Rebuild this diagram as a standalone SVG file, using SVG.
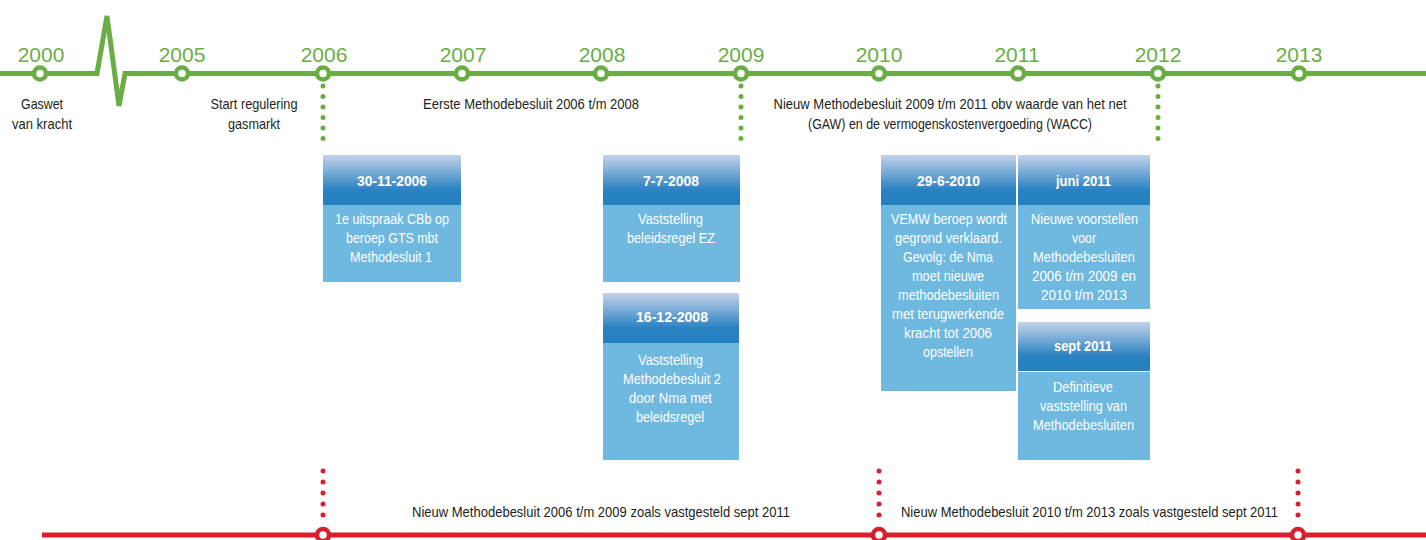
<svg xmlns="http://www.w3.org/2000/svg" width="1426" height="540" viewBox="0 0 1426 540">
<defs>
<linearGradient id="hdr" x1="0" y1="0" x2="0" y2="1">
<stop offset="0" stop-color="#c3d2ea"/>
<stop offset="0.7" stop-color="#2a82c2"/>
<stop offset="1" stop-color="#2381c0"/>
</linearGradient>
<style>
.yr{font-family:"Liberation Sans",Arial,sans-serif;font-size:21px;fill:#6aad45;text-anchor:middle}
.lbl{font-family:"Liberation Sans",Arial,sans-serif;font-size:14.5px;fill:#231f20;text-anchor:middle}
.hd{font-family:"Liberation Sans",Arial,sans-serif;font-size:15.5px;font-weight:bold;fill:#fff;text-anchor:middle}
.bd{font-family:"Liberation Sans",Arial,sans-serif;font-size:15.5px;fill:#fff;text-anchor:middle}
.body{fill:#6fb8e0}
.head{fill:url(#hdr)}
.gl{stroke:#6aad45;stroke-width:5;fill:none}
.rl{stroke:#d71f2e;stroke-width:5;fill:none}
.gd{stroke:#6aad45;stroke-width:5;stroke-linecap:round;stroke-dasharray:0 10.5;fill:none}
.rd{stroke:#d71f2e;stroke-width:5;stroke-linecap:round;stroke-dasharray:0 11;fill:none}
.gc{fill:#fff;stroke:#6aad45;stroke-width:4.5}
.rc{fill:#fff;stroke:#d71f2e;stroke-width:4.5}
</style>
</defs>
<g id="connectors">
<polyline class="gl" points="0,73.5 97,73.5 107,16 119,106 125,73.5 1426,73.5" stroke-linejoin="miter"/>
<line class="gd" x1="323" y1="86" x2="323" y2="144"/>
<line class="gd" x1="741" y1="86" x2="741" y2="144"/>
<line class="gd" x1="1158" y1="86" x2="1158" y2="144"/>
<line class="rl" x1="42" y1="535" x2="1426" y2="535"/>
<line class="rd" x1="323" y1="471" x2="323" y2="522"/>
<line class="rd" x1="879" y1="471" x2="879" y2="522"/>
<line class="rd" x1="1298" y1="471" x2="1298" y2="522"/>
</g>
<g id="years">
<g id="y2000"><circle class="gc" cx="40" cy="73.5" r="6"/><text class="yr" x="41" y="62">2000</text></g>
<g id="y2005"><circle class="gc" cx="182" cy="73.5" r="6"/><text class="yr" x="182" y="62">2005</text></g>
<g id="y2006"><circle class="gc" cx="323" cy="73.5" r="6"/><text class="yr" x="324" y="62">2006</text></g>
<g id="y2007"><circle class="gc" cx="462" cy="73.5" r="6"/><text class="yr" x="463" y="62">2007</text></g>
<g id="y2008"><circle class="gc" cx="601" cy="73.5" r="6"/><text class="yr" x="602" y="62">2008</text></g>
<g id="y2009"><circle class="gc" cx="741" cy="73.5" r="6"/><text class="yr" x="741" y="62">2009</text></g>
<g id="y2010"><circle class="gc" cx="879" cy="73.5" r="6"/><text class="yr" x="879" y="62">2010</text></g>
<g id="y2011"><circle class="gc" cx="1018" cy="73.5" r="6"/><text class="yr" x="1017" y="62">2011</text></g>
<g id="y2012"><circle class="gc" cx="1158" cy="73.5" r="6"/><text class="yr" x="1158" y="62">2012</text></g>
<g id="y2013"><circle class="gc" cx="1299" cy="73.5" r="6"/><text class="yr" x="1299" y="62">2013</text></g>
</g>
<g id="labels">
<text class="lbl" x="42" y="109" textLength="42" lengthAdjust="spacingAndGlyphs">Gaswet</text>
<text class="lbl" x="42" y="129" textLength="60" lengthAdjust="spacingAndGlyphs">van kracht</text>
<text class="lbl" x="254" y="109" textLength="87" lengthAdjust="spacingAndGlyphs">Start regulering</text>
<text class="lbl" x="254" y="129" textLength="52" lengthAdjust="spacingAndGlyphs">gasmarkt</text>
<text class="lbl" x="531" y="109" textLength="216" lengthAdjust="spacingAndGlyphs">Eerste Methodebesluit 2006 t/m 2008</text>
<text class="lbl" x="950" y="109" textLength="353" lengthAdjust="spacingAndGlyphs">Nieuw Methodebesluit 2009 t/m 2011 obv waarde van het net</text>
<text class="lbl" x="950" y="129" textLength="284" lengthAdjust="spacingAndGlyphs">(GAW) en de vermogenskostenvergoeding (WACC)</text>
</g>
<g id="box-30-11-2006">
<rect class="head" x="323" y="155" width="138" height="50"/>
<rect class="body" x="323" y="205" width="138" height="77"/>
<text class="hd" x="392" y="186" textLength="70" lengthAdjust="spacingAndGlyphs">30-11-2006</text>
<text class="bd" x="392" y="224" textLength="114" lengthAdjust="spacingAndGlyphs">1e uitspraak CBb op</text>
<text class="bd" x="392" y="243" textLength="92" lengthAdjust="spacingAndGlyphs">beroep GTS mbt</text>
<text class="bd" x="391" y="262" textLength="82" lengthAdjust="spacingAndGlyphs">Methodesluit 1</text>
</g>
<g id="box-7-7-2008">
<rect class="head" x="603" y="155" width="137" height="50"/>
<rect class="body" x="603" y="205" width="137" height="77"/>
<text class="hd" x="671" y="186" textLength="56" lengthAdjust="spacingAndGlyphs">7-7-2008</text>
<text class="bd" x="670.5" y="224" textLength="65" lengthAdjust="spacingAndGlyphs">Vaststelling</text>
<text class="bd" x="671" y="243" textLength="88" lengthAdjust="spacingAndGlyphs">beleidsregel EZ</text>
</g>
<g id="box-16-12-2008">
<rect class="head" x="603" y="293" width="136" height="50"/>
<rect class="body" x="603" y="343" width="136" height="117"/>
<text class="hd" x="672" y="322" textLength="72" lengthAdjust="spacingAndGlyphs">16-12-2008</text>
<text class="bd" x="670.5" y="365" textLength="65" lengthAdjust="spacingAndGlyphs">Vaststelling</text>
<text class="bd" x="672" y="384" textLength="98" lengthAdjust="spacingAndGlyphs">Methodebesluit 2</text>
<text class="bd" x="670.5" y="403" textLength="83" lengthAdjust="spacingAndGlyphs">door Nma met</text>
<text class="bd" x="670" y="422" textLength="68" lengthAdjust="spacingAndGlyphs">beleidsregel</text>
</g>
<g id="box-29-6-2010">
<rect class="head" x="881" y="155" width="135" height="50"/>
<rect class="body" x="881" y="205" width="135" height="186"/>
<text class="hd" x="948.5" y="186" textLength="63" lengthAdjust="spacingAndGlyphs">29-6-2010</text>
<text class="bd" x="949" y="224" textLength="116" lengthAdjust="spacingAndGlyphs">VEMW beroep wordt</text>
<text class="bd" x="948.5" y="243" textLength="107" lengthAdjust="spacingAndGlyphs">gegrond verklaard.</text>
<text class="bd" x="948" y="262" textLength="90" lengthAdjust="spacingAndGlyphs">Gevolg: de Nma</text>
<text class="bd" x="948" y="281" textLength="72" lengthAdjust="spacingAndGlyphs">moet nieuwe</text>
<text class="bd" x="948.5" y="300" textLength="101" lengthAdjust="spacingAndGlyphs">methodebesluiten</text>
<text class="bd" x="948" y="319" textLength="112" lengthAdjust="spacingAndGlyphs">met terugwerkende</text>
<text class="bd" x="948" y="338" textLength="88" lengthAdjust="spacingAndGlyphs">kracht tot 2006</text>
<text class="bd" x="948" y="357" textLength="50" lengthAdjust="spacingAndGlyphs">opstellen</text>
</g>
<g id="box-juni-2011">
<rect class="head" x="1018" y="155" width="132" height="50"/>
<rect class="body" x="1018" y="205" width="132" height="104"/>
<text class="hd" x="1083.5" y="186" textLength="55" lengthAdjust="spacingAndGlyphs">juni 2011</text>
<text class="bd" x="1084.5" y="224" textLength="107" lengthAdjust="spacingAndGlyphs">Nieuwe voorstellen</text>
<text class="bd" x="1084" y="243" textLength="24" lengthAdjust="spacingAndGlyphs">voor</text>
<text class="bd" x="1084" y="262" textLength="102" lengthAdjust="spacingAndGlyphs">Methodebesluiten</text>
<text class="bd" x="1084" y="281" textLength="104" lengthAdjust="spacingAndGlyphs">2006 t/m 2009 en</text>
<text class="bd" x="1084" y="300" textLength="86" lengthAdjust="spacingAndGlyphs">2010 t/m 2013</text>
</g>
<g id="box-sept-2011">
<rect class="head" x="1018" y="322" width="132" height="49"/>
<rect class="body" x="1018" y="372" width="132" height="88"/>
<text class="hd" x="1083" y="351" textLength="58" lengthAdjust="spacingAndGlyphs">sept 2011</text>
<text class="bd" x="1083" y="392" textLength="60" lengthAdjust="spacingAndGlyphs">Definitieve</text>
<text class="bd" x="1083.5" y="411" textLength="87" lengthAdjust="spacingAndGlyphs">vaststelling van</text>
<text class="bd" x="1083.5" y="430" textLength="101" lengthAdjust="spacingAndGlyphs">Methodebesluiten</text>
</g>
<g id="red-timeline">
<g id="r2006"><circle class="rc" cx="323" cy="535" r="6"/></g>
<g id="r2010"><circle class="rc" cx="879" cy="535" r="6"/></g>
<g id="r2013"><circle class="rc" cx="1298" cy="535" r="6"/></g>
<text class="lbl" x="601" y="517" textLength="378" lengthAdjust="spacingAndGlyphs">Nieuw Methodebesluit 2006 t/m 2009 zoals vastgesteld sept 2011</text>
<text class="lbl" x="1089.5" y="517" textLength="377" lengthAdjust="spacingAndGlyphs">Nieuw Methodebesluit 2010 t/m 2013 zoals vastgesteld sept 2011</text>
</g>
</svg>
